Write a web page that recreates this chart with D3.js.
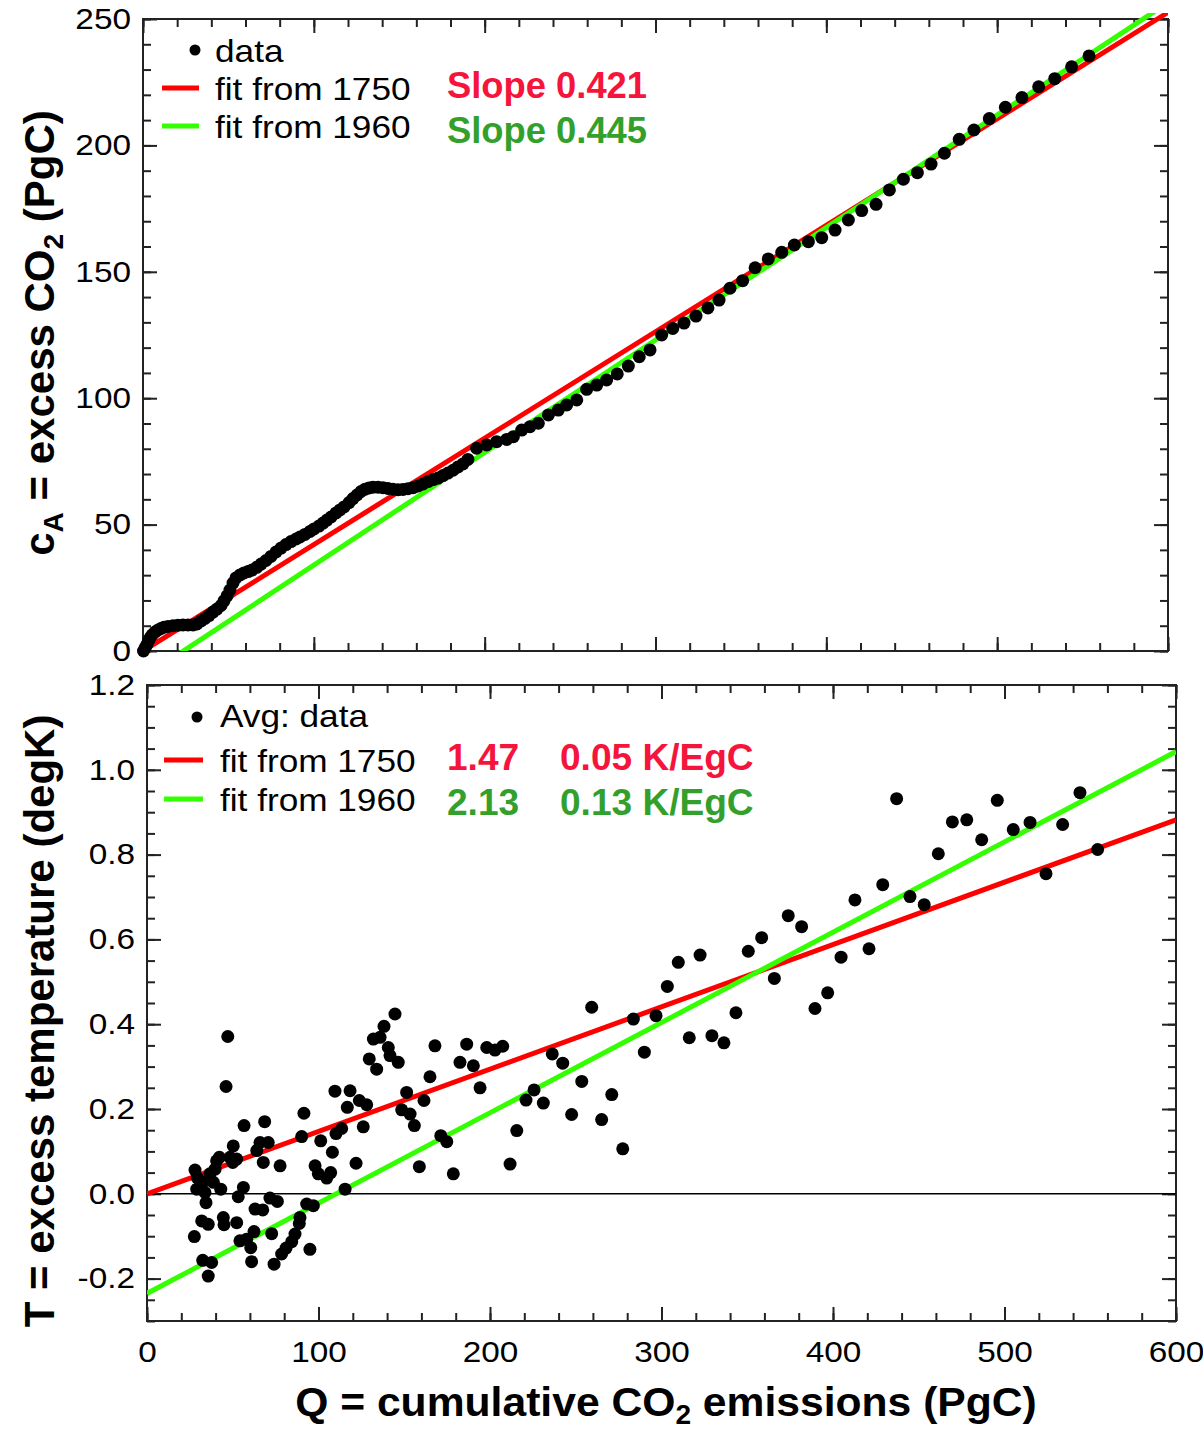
<!DOCTYPE html>
<html>
<head>
<meta charset="utf-8">
<script src="https://cdn.jsdelivr.net/npm/d3@7"></script>
<style>
  body { margin: 0; background: #fff; }
  svg { display: block; font-family: "Liberation Sans", Arial, Helvetica, sans-serif; }
</style>
</head>
<body>
<div class="plot"></div>
<script>
// DATA

// top panel: [Q cumulative emissions PgC, cA excess CO2 PgC]
var co2Data = [
  [0.3,0],[1.2,1.2],[2.2,2.4],[3.2,4.0],[4.1,5.1],[5.3,6.3],[7.0,7.5],[8.8,8.3],[10.5,8.9],[12.3,9.4],
  [14.6,9.7],[17.6,10.0],[20.5,10.2],[23.4,10.3],[26.3,10.3],[29.3,10.3],[31.6,10.7],[34.0,11.9],[36.3,12.9],[38.6,14.0],
  [41.0,15.4],[43.3,16.6],[45.7,18.0],[47.4,19.8],[49.2,21.8],[50.9,24.1],[52.7,26.9],[54.4,28.9],[56.8,30.1],[59.1,30.9],
  [61.5,31.4],[63.8,32.0],[66.6,33.1],[69.1,34.4],[72.0,35.8],[74.9,37.4],[77.9,39.2],[80.8,40.7],[83.7,42.1],[86.6,43.3],
  [89.6,44.3],[91.9,45.1],[94.8,46.1],[97.8,47.3],[100.1,48.3],[103.0,49.4],[105.4,50.6],[107.7,51.8],[110.1,53.0],[113.0,54.6],
  [115.3,55.8],[117.7,57.0],[120.6,58.7],[122.9,60.3],[125.3,61.7],[127.6,63.1],[130.0,64.0],[132.3,64.5],[134.6,64.8],[137.6,64.8],
  [140.5,64.6],[143.4,64.3],[146.3,64.0],[149.3,63.8],[152.2,63.9],[155.1,64.2],[158.1,64.6],[161.0,65.3],[163.9,66.1],[166.8,67.0],
  [169.8,67.8],[172.7,68.4],[175.6,69.4],[178.5,70.4],[181.5,71.5],[184.4,72.8],[187.3,74.0],[190.2,75.8],
  [195.3,80.2],[201.2,81.5],[207.0,82.8],[212.9,83.7],[216.8,84.8],[221.7,87.4],[226.5,88.7],[231.4,90.1],[237.3,93.4],[243.1,95.3],
  [248.0,97.3],[253.9,99.3],[259.7,103.5],[265.6,105.2],[271.4,107.2],[277.6,109.6],[284.1,112.7],[290.5,116.4],[296.8,119.1],[303.6,125.0],
  [310.1,127.6],[316.7,129.7],[323.7,132.5],[330.7,135.7],[337.2,138.8],[343.6,143.5],[351.0,146.5],[358.3,151.6],[366.0,155.1],[373.9,157.7],
  [381.3,160.6],[389.5,161.9],[397.3,163.5],[405.1,166.5],[412.9,170.5],[420.7,174.2],[429.1,176.7],[436.9,182.4],[445.1,186.6],[453.3,189.2],
  [461.3,192.6],[469.1,196.9],[477.8,202.4],[486.4,206.1],[495.4,210.6],[504.8,215.1],[514.5,218.9],[524.3,223.2],[533.7,226.4],[543.6,231.1],
  [553.8,235.4]
];

// bottom panel: [Q cumulative emissions PgC, T excess temperature K]
var tempData = [
  [28.0,0.056],[29.3,0.038],[32.5,0.027],[29.0,0.011],[33.8,0.003],[34.4,-0.021],[36.7,0.047],[39.7,0.058],[40.6,0.078],[42.2,0.086],
  [38.7,0.027],[43.0,0.011],[48.4,0.086],[50.3,0.113],[50.0,0.074],[52.3,0.082],[56.2,0.015],[53.2,-0.007],[27.6,-0.101],[31.9,-0.064],
  [35.7,-0.072],[32.5,-0.157],[37.7,-0.162],[35.7,-0.194],[44.5,-0.056],[44.9,-0.073],[52.3,-0.068],[54.2,-0.111],[58.1,-0.107],[60.5,-0.127],
  [61.0,-0.160],[62.4,-0.089],[63.0,-0.036],[67.5,-0.038],[71.7,-0.010],[76.0,-0.018],[72.7,-0.094],[74.1,-0.166],[78.5,-0.142],[81.1,-0.128],
  [84.4,-0.113],[86.3,-0.095],[88.8,-0.070],[89.2,-0.056],[93.1,-0.024],[97.0,-0.028],[95.0,-0.131],[115.5,0.011],[47.1,0.371],[46.1,0.253],
  [56.6,0.161],[68.6,0.170],[64.0,0.102],[65.9,0.121],[70.7,0.121],[67.8,0.074],[77.6,0.066],[91.5,0.190],[90.2,0.135],[101.3,0.125],
  [108.1,0.098],[98.0,0.066],[99.9,0.047],[104.8,0.037],[107.1,0.050],[113.5,0.154],[110.2,0.142],[121.9,0.072],[109.6,0.242],[118.4,0.243],
  [116.8,0.204],[123.8,0.220],[128.1,0.210],[126.1,0.158],[144.6,0.424],[138.2,0.395],[132.0,0.365],[135.9,0.369],[140.7,0.345],[141.7,0.326],
  [146.5,0.310],[129.6,0.318],[133.9,0.294],[167.9,0.349],[186.4,0.353],[198.1,0.345],[202.9,0.339],[207.4,0.348],[182.5,0.310],[190.3,0.302],
  [165.0,0.276],[194.2,0.250],[151.4,0.239],[161.5,0.220],[148.5,0.198],[153.4,0.188],[155.9,0.161],[171.3,0.137],[174.8,0.123],[158.8,0.064],
  [178.6,0.047],[215.6,0.149],[211.7,0.070],[225.7,0.245],[221.0,0.221],[231.1,0.214],[253.5,0.265],[271.0,0.234],[247.6,0.187],[265.1,0.175],
  [277.4,0.106],[236.3,0.330],[242.4,0.308],[259.3,0.440],[283.6,0.412],[296.8,0.420],[303.4,0.489],[309.8,0.546],[322.5,0.563],[290.0,0.334],
  [316.2,0.368],[329.4,0.373],[336.4,0.356],[343.4,0.427],[350.6,0.572],[358.4,0.604],[365.8,0.508],[373.9,0.656],[381.7,0.630],[389.5,0.437],
  [396.9,0.474],[404.7,0.558],[412.8,0.693],[421.0,0.578],[429.0,0.729],[437.1,0.932],[444.9,0.701],[453.2,0.682],[461.4,0.802],[469.6,0.877],
  [478.0,0.882],[486.7,0.835],[495.8,0.928],[505.1,0.859],[514.9,0.876],[524.2,0.755],[533.9,0.871],[544.0,0.946],[554.3,0.812]
];

// fits
var fitNames = ["fit from 1750", "fit from 1960"];
var co2FitSlope = [0.421, 0.445];
var co2FitIntercept = [0, -10.5];
var co2FitText = ["Slope 0.421", "Slope 0.445"];
var tempFitSlope = [0.00147, 0.00213];
var tempFitIntercept = [0, -0.235];
var tempFitText = ["1.47", "2.13"];
var tempRateText = ["0.05 K/EgC", "0.13 K/EgC"];

// ticks
var xTickVals = [0, 100, 200, 300, 400, 500, 600];
var co2TickVals = [0, 50, 100, 150, 200, 250];
var tempTickVals = [-0.2, 0.0, 0.2, 0.4, 0.6, 0.8, 1.0, 1.2];


// GLOBAL VARIABLES
var w = 1203;
var h = 1430;
var lineColors = ["#ff0000", "#33ff00"];
var textColors = ["#f5143c", "#33a02c"];
var tickFont = 29, tickStretch = 1.15;
var legFont = 32, legStretch = 1.1;

var svg = d3.select(".plot").append("svg").attr("width", w).attr("height", h);

// SCALES
var xCo2 = d3.scaleLinear().domain([0, 600]).range([143, 1168]);
var yCo2 = d3.scaleLinear().domain([0, 250]).range([651, 19]);
var xTemp = d3.scaleLinear().domain([0, 600]).range([147, 1176]);
var yTemp = d3.scaleLinear().domain([-0.3, 1.2]).range([1321, 685]);

// plain hyphen for negatives, like the source
var fmtTemp = function (d) { return d3.format(".1f")(d).replace("\u2212", "-"); };

// stretch text horizontally (the source picture is a bit wide)
function stretch(sel, sx) {
  sel.each(function () {
    var t = d3.select(this);
    var x = +t.attr("x") || 0;
    t.attr("x", x / sx).attr("transform", "scale(" + sx + ",1)");
  });
}

// FRAME + INWARD TICKS
function drawAxes(id, xs, ys, xMinor, yMinor, yMajor, yFmt, xLabels) {
  var x0 = xs.range()[0], x1 = xs.range()[1];
  var y0 = ys.range()[0], y1 = ys.range()[1];
  var g = svg.append("g").attr("class", "axes");

  function ax(axis, tx, ty, vals, size, fmt) {
    var a = g.append("g")
      .attr("transform", "translate(" + tx + "," + ty + ")")
      .call(axis.tickValues(vals).tickSize(size).tickSizeOuter(0).tickPadding(12)
        .tickFormat(fmt || ""));
    a.select(".domain").remove();
    a.selectAll("line").attr("stroke", "#222").attr("stroke-width", 2);
    return a;
  }
  // minor
  ax(d3.axisBottom(xs), 0, y0, xMinor, -8);
  ax(d3.axisTop(xs), 0, y1, xMinor, -8);
  ax(d3.axisLeft(ys), x0, 0, yMinor, -8);
  ax(d3.axisRight(ys), x1, 0, yMinor, -8);
  // major
  var bx = ax(d3.axisBottom(xs), 0, y0, xTickVals, -14, xLabels ? d3.format("d") : null);
  ax(d3.axisTop(xs), 0, y1, xTickVals, -14);
  var ly = ax(d3.axisLeft(ys), x0, 0, yMajor, -14, yFmt);
  ax(d3.axisRight(ys), x1, 0, yMajor, -14);

  ly.selectAll("text").attr("font-size", tickFont).attr("fill", "#000")
    .attr("font-family", "'Liberation Sans', Arial, sans-serif").call(stretch, tickStretch);
  if (xLabels) {
    bx.selectAll("text").attr("font-size", tickFont).attr("fill", "#000")
      .attr("font-family", "'Liberation Sans', Arial, sans-serif")
      .attr("y", 20).call(stretch, tickStretch);
  }

  g.append("rect")
    .attr("x", x0).attr("y", y1)
    .attr("width", x1 - x0).attr("height", y0 - y1)
    .attr("fill", "none").attr("stroke", "#222").attr("stroke-width", 2);

  svg.append("clipPath").attr("id", id)
    .append("rect").attr("x", x0).attr("y", y1 - 6)
    .attr("width", x1 - x0).attr("height", y0 - y1 + 6);
}

drawAxes("clipCo2", xCo2, yCo2, d3.range(0, 601, 20), d3.range(0, 251, 10),
  co2TickVals, d3.format("d"), false);
drawAxes("clipTemp", xTemp, yTemp, d3.range(0, 601, 20), d3.range(-6, 25).map(function (i) { return i * 0.05; }),
  tempTickVals, fmtTemp, true);

// zero line
svg.append("line")
  .attr("x1", xTemp(0)).attr("x2", xTemp(600))
  .attr("y1", yTemp(0)).attr("y2", yTemp(0))
  .attr("stroke", "#000").attr("stroke-width", 1.5);

// FIT LINES
function drawFits(clip, xs, ys, slopes, intercepts) {
  svg.append("g").attr("clip-path", "url(#" + clip + ")")
    .selectAll("line")
    .data(slopes)
    .enter()
    .append("line")
    .attr("x1", xs(0))
    .attr("y1", function (d, i) { return ys(intercepts[i]); })
    .attr("x2", xs(600))
    .attr("y2", function (d, i) { return ys(d * 600 + intercepts[i]); })
    .attr("stroke", function (d, i) { return lineColors[i]; })
    .attr("stroke-width", 5);
}
drawFits("clipCo2", xCo2, yCo2, co2FitSlope, co2FitIntercept);
drawFits("clipTemp", xTemp, yTemp, tempFitSlope, tempFitIntercept);

// DOTS
svg.append("g").selectAll("circle")
  .data(co2Data)
  .enter()
  .append("circle")
  .attr("cx", function (d) { return xCo2(d[0]); })
  .attr("cy", function (d) { return yCo2(d[1]); })
  .attr("r", 6.5)
  .attr("fill", "#000");

svg.append("g").selectAll("circle")
  .data(tempData)
  .enter()
  .append("circle")
  .attr("cx", function (d) { return xTemp(d[0]); })
  .attr("cy", function (d) { return yTemp(d[1]); })
  .attr("r", 6.5)
  .attr("fill", "#000");

// LEGENDS
function legText(x, y, txt, opts) {
  var t = svg.append("text")
    .attr("x", x).attr("y", y)
    .attr("font-size", opts.size)
    .attr("font-weight", opts.bold ? "bold" : "normal")
    .attr("fill", opts.color || "#000")
    .text(txt);
  if (opts.sx) t.call(stretch, opts.sx);
  return t;
}

// top legend
svg.append("circle").attr("cx", 195).attr("cy", 50).attr("r", 5.5).attr("fill", "#000");
legText(215, 62, "data", { size: legFont, sx: legStretch });
fitNames.forEach(function (name, i) {
  var ly = [88, 126][i];
  svg.append("line").attr("x1", 162).attr("x2", 199).attr("y1", ly).attr("y2", ly)
    .attr("stroke", lineColors[i]).attr("stroke-width", 5);
  legText(215, ly + 12, name, { size: legFont, sx: legStretch });
  legText(447, [98, 143][i], co2FitText[i], { size: 36, bold: true, color: textColors[i], sx: 1.01 });
});

// bottom legend
svg.append("circle").attr("cx", 197).attr("cy", 717).attr("r", 5.5).attr("fill", "#000");
legText(220, 727, "Avg: data", { size: legFont, sx: legStretch });
fitNames.forEach(function (name, i) {
  var ly = [760, 799][i];
  svg.append("line").attr("x1", 164).attr("x2", 203).attr("y1", ly).attr("y2", ly)
    .attr("stroke", lineColors[i]).attr("stroke-width", 5);
  legText(220, ly + 12, name, { size: legFont, sx: legStretch });
  legText(447, [770, 815][i], tempFitText[i], { size: 36, bold: true, color: textColors[i], sx: 1.03 });
  legText(560, [770, 815][i], tempRateText[i], { size: 36, bold: true, color: textColors[i], sx: 1.03 });
});

// AXIS TITLES
var xt = svg.append("text")
  .attr("x", 666 / 1.04).attr("y", 1416)
  .attr("transform", "scale(1.04,1)")
  .attr("text-anchor", "middle")
  .attr("font-size", 41).attr("font-weight", "bold");
xt.append("tspan").text("Q = cumulative CO");
xt.append("tspan").attr("font-size", 27).attr("dy", 8).text("2");
xt.append("tspan").attr("dy", -8).text(" emissions (PgC)");

var yt1 = svg.append("text")
  .attr("transform", "translate(54,333) rotate(-90)")
  .attr("text-anchor", "middle")
  .attr("font-size", 42).attr("font-weight", "bold");
yt1.append("tspan").text("c");
yt1.append("tspan").attr("font-size", 28).attr("dy", 9).text("A");
yt1.append("tspan").attr("dy", -9).text(" = excess CO");
yt1.append("tspan").attr("font-size", 28).attr("dy", 9).text("2");
yt1.append("tspan").attr("dy", -9).text(" (PgC)");

svg.append("text")
  .attr("transform", "translate(54,1021) rotate(-90)")
  .attr("text-anchor", "middle")
  .attr("font-size", 42).attr("font-weight", "bold")
  .text("T = excess temperature (degK)");
</script>
</body>
</html>
